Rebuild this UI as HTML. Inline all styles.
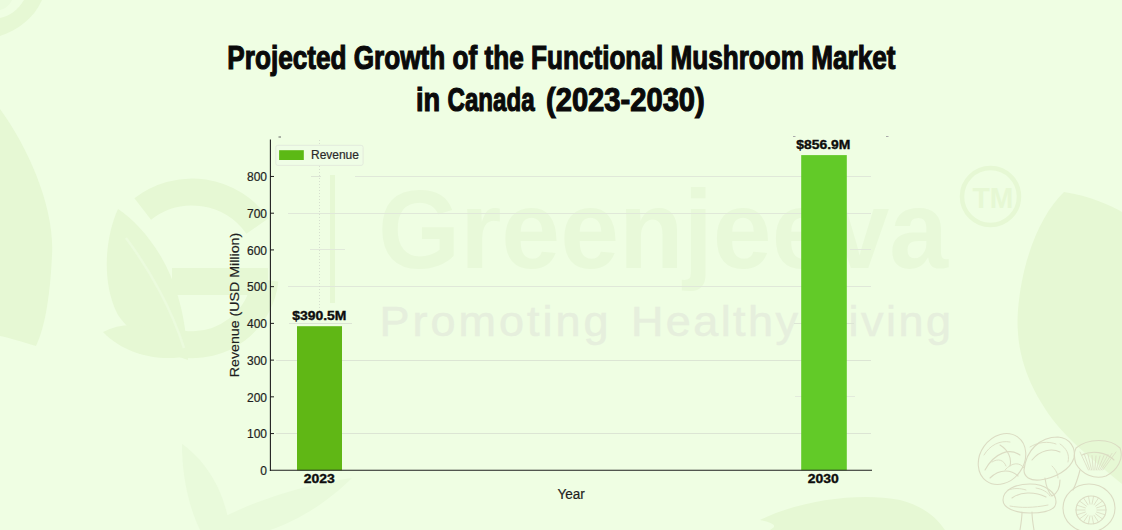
<!DOCTYPE html>
<html><head><meta charset="utf-8">
<style>
html,body{margin:0;padding:0;}
body{width:1122px;height:530px;overflow:hidden;position:relative;background:#effee3;font-family:"Liberation Sans",sans-serif;}
.abs{position:absolute;}
.title{position:absolute;left:0;width:1122px;text-align:center;font-weight:bold;font-size:34px;color:#0a0a0a;white-space:nowrap;line-height:34px;}
.title span{display:inline-block;transform-origin:center;-webkit-text-stroke:1.2px #0a0a0a;}
.yt{position:absolute;left:236px;font-size:12px;color:#1e1e1e;line-height:12px;text-align:right;width:31px;-webkit-text-stroke:0.2px #1e1e1e;}
.lbl{position:absolute;font-size:12px;font-weight:bold;color:#0d0d0d;line-height:12px;white-space:nowrap;width:60px;text-align:center;}
.lbl span{display:inline-block;transform:scaleX(1.16);-webkit-text-stroke:0.35px #0d0d0d;}
</style></head>
<body>
<svg class="abs" style="left:0;top:0" width="1122" height="530" viewBox="0 0 1122 530">
  <g fill="#e6f8d4">
    <!-- top-left -->
    <path d="M0 0 L12 0 C10 5 5 9 0 10 Z" fill="#eafbdd"/><path d="M0 36 C18 30 34 18 42 0 L24 0 C18 10 10 16 0 18 Z"/>
    <!-- left leaf -->
    <path d="M0 109 C30 150 55 210 52 255 C50 300 44 330 36 346 C22 342 10 338 0 336 Z"/>
    <!-- right leaf -->
    <path d="M1064 192 C1090 196 1110 205 1122 212 L1122 484 C1095 462 1068 440 1053 420 C1027 385 1015 350 1018 310 C1022 260 1040 215 1064 192 Z"/>
    <!-- bottom center leaf -->
    <path d="M760 520 C800 500 860 492 900 500 C920 505 935 515 945 530 L770 530 C780 525 770 522 760 520 Z"/>
    <!-- bottom-left leaves -->
    <path fill="#e9fadb" d="M200 530 C240 505 300 485 352 478 C330 500 300 520 270 530 Z"/>
    <path fill="#e9fadb" d="M182 444 C205 460 225 490 230 530 L200 530 C188 505 182 475 182 444 Z"/>
  </g>
  <!-- mushrooms -->
  <g fill="none" stroke="#dbdcc3" stroke-width="1.1" stroke-linecap="round">
    <ellipse cx="1002" cy="459" rx="22" ry="27" transform="rotate(35 1002 459)"/>
    <path d="M985 470 C995 452 1010 448 1020 455 M990 478 C1000 468 1012 470 1018 476 M1000 445 C1008 450 1012 458 1010 466"/>
    <path d="M1024 470 C1026 450 1040 437 1058 437 C1070 438 1076 448 1074 458 C1070 470 1055 478 1040 480 C1030 481 1024 477 1024 470 Z"/>
    <path d="M1032 460 C1040 450 1052 448 1060 452 M1045 478 C1046 486 1048 492 1052 496 C1056 494 1060 490 1060 480"/>
    <path d="M1076 448 C1088 438 1110 438 1120 448 C1124 458 1118 470 1106 476 C1094 480 1082 474 1076 464 C1074 458 1074 452 1076 448 Z"/>
    <path d="M1082 455 C1092 450 1106 452 1114 460 M1080 470 C1078 478 1076 484 1073 490"/>
    <path d="M1003 500 C1003 490 1015 484 1030 484 C1045 484 1056 492 1056 502 C1056 510 1045 513 1030 513 C1015 513 1003 508 1003 500 Z"/>
    <path d="M1012 498 C1020 492 1034 491 1046 497 M1022 512 C1022 518 1021 524 1020 530 M1032 512 C1032 518 1033 524 1034 530"/>
<path stroke-width="0.8" d="M1097.0 510.0 L1106.0 510.0 M1096.6 512.1 L1105.1 514.8 M1095.6 513.9 L1102.5 519.0 M1094.0 515.2 L1098.5 522.1 M1092.0 515.9 L1093.6 523.8 M1090.0 515.9 L1088.4 523.8 M1088.0 515.2 L1083.5 522.1 M1086.4 513.9 L1079.5 519.0 M1085.4 512.1 L1076.9 514.8 M1085.0 510.0 L1076.0 510.0 M1085.4 507.9 L1076.9 505.2 M1086.4 506.1 L1079.5 501.0 M1088.0 504.8 L1083.5 497.9 M1090.0 504.1 L1088.4 496.2 M1092.0 504.1 L1093.6 496.2 M1094.0 504.8 L1098.5 497.9 M1095.6 506.1 L1102.5 501.0 M1096.6 507.9 L1105.1 505.2 M1080.0 452.0 L1088.4 470.0 M1084.0 453.4 L1090.0 470.0 M1088.0 454.6 L1091.6 470.0 M1092.0 455.5 L1093.2 470.0 M1096.0 455.9 L1094.8 470.0 M1100.0 455.9 L1096.4 470.0 M1104.0 455.5 L1098.0 470.0 M1108.0 454.6 L1099.6 470.0 M1112.0 453.4 L1101.2 470.0 M1116.0 452.0 L1102.8 470.0"/>
    <path stroke-width="0.9" d="M984 455 C990 445 1000 440 1010 442 M1005 470 C1012 462 1020 462 1024 468 M992 462 C998 458 1004 460 1006 466 M1030 447 C1038 442 1048 441 1056 444 M1060 444 C1066 448 1070 454 1068 462 M1052 466 C1056 470 1058 474 1058 478 M1008 490 C1014 488 1020 488 1026 490 M1036 488 C1042 489 1048 492 1050 496 M1010 506 C1020 508 1034 508 1048 505"/>
    <ellipse cx="1089" cy="508" rx="26" ry="24"/>
    <ellipse cx="1091" cy="510" rx="15" ry="14"/>
    
  </g>
  <!-- logo -->
  <g fill="none" stroke="#e6f8d4" stroke-width="27">
    <path d="M142.7 209 A80 80 0 0 1 257.5 226"/>
    <path d="M265 280 A73 73 0 0 1 182 344"/>
  </g>
  <g fill="#e6f8d4">
    <rect x="172" y="268" width="96" height="27"/>
    <path d="M118 209 C104 240 102 285 118 315 C135 340 165 352 188 360 C186 320 178 285 160 255 C148 235 132 218 118 209 Z"/>
    <path d="M103 332 C130 318 165 325 188 356 C160 362 125 355 103 332 Z"/>
  </g>
  <g fill="none" stroke="#ebfbdd" stroke-width="2.5">
    <path d="M126 238 C150 270 172 310 184 348"/>
  </g>
  <g fill="#e6f8d4">
    <rect x="330" y="175" width="5" height="128"/>
  </g>
  <text x="378" y="267.5" id="gj" font-family="Liberation Sans" font-weight="bold" font-size="111" fill="#e8f9d9" textLength="570" lengthAdjust="spacingAndGlyphs">Greenjeeva</text>
  <circle cx="990.5" cy="196.5" r="28.5" fill="none" stroke="#e6f8d4" stroke-width="4.5"/>
  <text x="993" y="208.3" text-anchor="middle" font-family="Liberation Sans" font-weight="bold" font-size="30" fill="#e6f8d4" textLength="41" lengthAdjust="spacingAndGlyphs">TM</text>
  <g font-family="Liberation Sans" font-size="42" fill="#e6efdd" stroke="#e6efdd" stroke-width="0.5">
    <text transform="translate(379.5 336) scale(1.07 1)" textLength="214" lengthAdjust="spacing">Promoting</text>
    <text transform="translate(631 336) scale(1.07 1)" textLength="156" lengthAdjust="spacing">Healthy</text>
    <text transform="translate(821 336) scale(1.07 1)" textLength="121.5" lengthAdjust="spacing">Living</text>
  </g>
</svg>

<div class="title" style="top:40px"><span id="t1" style="transform:scaleX(0.769)">Projected Growth of the Functional Mushroom Market</span></div>
<div class="title" style="top:82px;left:0;width:auto;text-align:left"><span style="transform-origin:left;transform:translateX(416px) scaleX(0.80)">in</span></div>
<div class="title" style="top:82px;left:0;width:auto;text-align:left"><span id="t2a" style="transform-origin:left;transform:translateX(447.5px) scaleX(0.709)">Canada</span></div>
<div class="title" style="top:82px;left:0;width:auto;text-align:left"><span id="t2b" style="transform-origin:left;transform:translateX(546px) scaleX(0.857)">(2023-2030)</span></div>

<!-- chart -->
<svg class="abs" style="left:0;top:0" width="1122" height="530" viewBox="0 0 1122 530">
  <!-- grid -->
  <g stroke="#dce5d4" stroke-width="1">
    <line x1="276" y1="433.5" x2="871" y2="433.5"/>
    <line x1="795" y1="396.5" x2="855" y2="396.5" stroke="#e3ebdc"/>
    <line x1="276" y1="360.5" x2="871" y2="360.5"/>
    <line x1="289" y1="323.5" x2="352" y2="323.5"/>
    <line x1="794" y1="323.5" x2="854" y2="323.5"/>
    <line x1="288" y1="286.5" x2="871" y2="286.5" stroke="#e0e8d9"/>
    <line x1="310" y1="249.5" x2="345" y2="249.5" stroke="#e1e9da"/>
    <line x1="850" y1="249.5" x2="871" y2="249.5" stroke="#e1e9da"/>
    <line x1="288" y1="213.5" x2="871" y2="213.5" stroke="#e0e8d9"/>
    <line x1="355" y1="176.5" x2="871" y2="176.5" stroke="#e0e8d9"/>
    <line x1="311" y1="176.5" x2="321" y2="176.5"/>
    <line x1="319.5" y1="166" x2="319.5" y2="319" stroke-dasharray="1,2" stroke="#d6dfcf"/>
    <line x1="319.5" y1="140" x2="319.5" y2="145" stroke-dasharray="1,2" stroke="#d6dfcf"/>
  </g>
  <!-- bars -->
  <rect x="297" y="326.2" width="45" height="144.1" fill="#60b715"/>
  <rect x="801.2" y="155.1" width="45.6" height="315.2" fill="#62ca28"/>
  <!-- axes -->
  <line x1="270.4" y1="139.4" x2="270.4" y2="470.9" stroke="#1e1e1e" stroke-width="1.1"/>
  <line x1="269.9" y1="470.3" x2="872" y2="470.3" stroke="#1e1e1e" stroke-width="1.1"/>
  <!-- ticks -->
  <g stroke="#1e1e1e" stroke-width="1">
    <line x1="270" y1="433.57" x2="274" y2="433.57"/>
    <line x1="270" y1="396.84" x2="274" y2="396.84"/>
    <line x1="270" y1="360.11" x2="274" y2="360.11"/>
    <line x1="270" y1="323.38" x2="274" y2="323.38"/>
    <line x1="270" y1="286.65" x2="274" y2="286.65"/>
    <line x1="270" y1="249.92" x2="274" y2="249.92"/>
    <line x1="270" y1="213.19" x2="274" y2="213.19"/>
    <line x1="270" y1="176.46" x2="274" y2="176.46"/>
  </g>
  <g stroke="#666" stroke-width="1"><line x1="278.5" y1="137" x2="281" y2="137"/><line x1="793" y1="136.5" x2="795.5" y2="136.5" stroke="#aaa"/><line x1="886" y1="136.5" x2="888.5" y2="136.5" stroke="#aaa"/></g>
  <!-- legend -->
  <rect x="275.8" y="145.3" width="87.3" height="20.1" rx="2" fill="#effde6" stroke="#dfe6da" stroke-width="0.8"/>
  <rect x="279.1" y="150.2" width="24.7" height="9.8" fill="#5cb915"/>
</svg>

<div class="yt" style="top:465.0px">0</div>
<div class="yt" style="top:428.27px">100</div>
<div class="yt" style="top:391.54px">200</div>
<div class="yt" style="top:354.81px">300</div>
<div class="yt" style="top:318.08px">400</div>
<div class="yt" style="top:281.35px">500</div>
<div class="yt" style="top:244.62px">600</div>
<div class="yt" style="top:207.89px">700</div>
<div class="yt" style="top:171.16px">800</div>

<div class="lbl" style="left:289px;top:310.2px"><span>$390.5M</span></div>
<div class="lbl" style="left:793px;top:139.2px"><span>$856.9M</span></div>
<div class="lbl" style="left:289px;top:473.3px"><span>2023</span></div>
<div class="lbl" style="left:793.3px;top:473.3px"><span>2030</span></div>
<div class="abs" style="left:541.5px;width:60px;text-align:center;top:486.5px;font-size:14px;line-height:14px;color:#1e1e1e;-webkit-text-stroke:0.2px #1e1e1e"><span style="display:inline-block;transform:scaleX(0.97)">Year</span></div>
<div class="abs" style="left:311px;top:148.5px;font-size:12.1px;line-height:12px;color:#2a2a2a;-webkit-text-stroke:0.2px #2a2a2a"><span style="display:inline-block;transform-origin:left;transform:scaleX(0.99)">Revenue</span></div>
<div class="abs" style="left:234.5px;top:305.2px;font-size:13.7px;line-height:14px;color:#1e1e1e;-webkit-text-stroke:0.2px #1e1e1e;white-space:nowrap;transform:translate(-50%,-50%) rotate(-90deg) scaleX(1.037)">Revenue (USD Million)</div>

</body></html>
